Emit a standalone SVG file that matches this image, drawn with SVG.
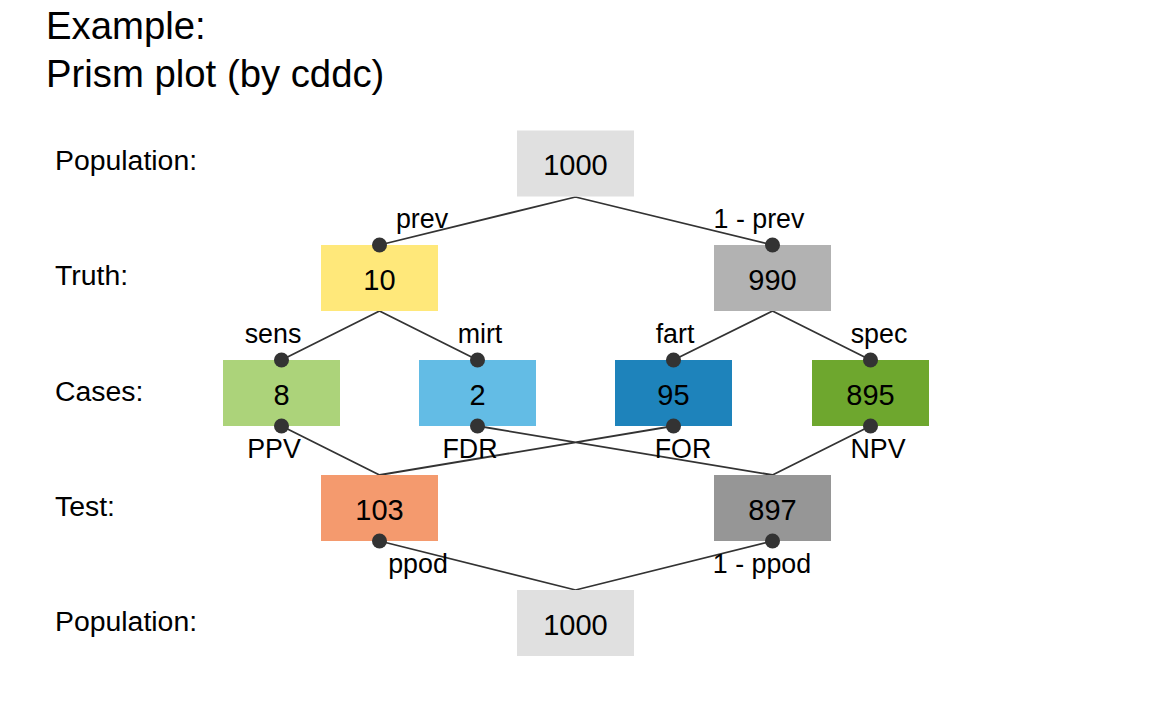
<svg xmlns="http://www.w3.org/2000/svg" width="1152" height="711" viewBox="0 0 1152 711">
<style>
text{font-family:"Liberation Sans",Arial,sans-serif;fill:#000}
.title{font-size:38.3px}
.row{font-size:28.4px}
.num{font-size:29px;text-anchor:middle}
.lbl{font-size:26.8px;text-anchor:middle}
.edge{stroke:#333333;stroke-width:1.8;fill:none}
.dot{fill:#333333}
</style>
<rect width="1152" height="711" fill="#ffffff"/>
<g id="title">
<text class="title" x="46" y="39">Example:</text>
<text class="title" x="46" y="87">Prism plot (by cddc)</text>
</g>
<g id="row-labels">
<text class="row" x="55" y="170">Population:</text>
<text class="row" x="55" y="285">Truth:</text>
<text class="row" x="55" y="401">Cases:</text>
<text class="row" x="55" y="516">Test:</text>
<text class="row" x="55" y="631">Population:</text>
</g>
<g id="connectors">
<path class="edge" d="M575.5,197 L379.5,245 M575.5,197 L772.5,245"/>
<path class="edge" d="M379.5,311 L281.5,360 M379.5,311 L477.5,360"/>
<path class="edge" d="M772.5,311 L673.5,360 M772.5,311 L870.5,360"/>
<path class="edge" d="M281.5,426 L379.5,475 M477.5,426 L772.5,475 M673.5,426 L379.5,475 M870.5,426 L772.5,475"/>
<path class="edge" d="M379.5,541 L575.5,590 M772.5,541 L575.5,590"/>
<text class="lbl" x="422" y="228">prev</text>
<text class="lbl" x="759" y="228">1 - prev</text>
<text class="lbl" x="273" y="343">sens</text>
<text class="lbl" x="480" y="343">mirt</text>
<text class="lbl" x="675" y="343">fart</text>
<text class="lbl" x="879" y="343">spec</text>
<text class="lbl" x="274" y="458">PPV</text>
<text class="lbl" x="470" y="458">FDR</text>
<text class="lbl" x="683" y="458">FOR</text>
<text class="lbl" x="878" y="458">NPV</text>
<text class="lbl" x="418" y="573">ppod</text>
<text class="lbl" x="762" y="573">1 - ppod</text>
</g>
<g id="node-pop-top">
<rect x="517" y="130.5" width="117" height="66" fill="#E0E0E0"/>
<text class="num" x="575.5" y="175">1000</text>
</g>
<g id="node-cond-true">
<rect x="321" y="245" width="117" height="66" fill="#FFE87A"/>
<text class="num" x="379.5" y="289.5">10</text>
</g>
<g id="node-cond-false">
<rect x="714" y="245" width="117" height="66" fill="#B2B2B2"/>
<text class="num" x="772.5" y="289.5">990</text>
</g>
<g id="node-hi">
<rect x="223" y="360" width="117" height="66" fill="#ACD37A"/>
<text class="num" x="281.5" y="404.5">8</text>
</g>
<g id="node-mi">
<rect x="419" y="360" width="117" height="66" fill="#63BCE5"/>
<text class="num" x="477.5" y="404.5">2</text>
</g>
<g id="node-fa">
<rect x="615" y="360" width="117" height="66" fill="#1E83BB"/>
<text class="num" x="673.5" y="404.5">95</text>
</g>
<g id="node-cr">
<rect x="812" y="360" width="117" height="66" fill="#6EA72E"/>
<text class="num" x="870.5" y="404.5">895</text>
</g>
<g id="node-dec-pos">
<rect x="321" y="475" width="117" height="66" fill="#F49A6E"/>
<text class="num" x="379.5" y="519.5">103</text>
</g>
<g id="node-dec-neg">
<rect x="714" y="475" width="117" height="66" fill="#969696"/>
<text class="num" x="772.5" y="519.5">897</text>
</g>
<g id="node-pop-bottom">
<rect x="517" y="590" width="117" height="66" fill="#E0E0E0"/>
<text class="num" x="575.5" y="634.5">1000</text>
</g>
<g id="dots">
<circle class="dot" cx="379.5" cy="245" r="7.5"/>
<circle class="dot" cx="772.5" cy="245" r="7.5"/>
<circle class="dot" cx="281.5" cy="360" r="7.5"/>
<circle class="dot" cx="477.5" cy="360" r="7.5"/>
<circle class="dot" cx="673.5" cy="360" r="7.5"/>
<circle class="dot" cx="870.5" cy="360" r="7.5"/>
<circle class="dot" cx="281.5" cy="426" r="7.5"/>
<circle class="dot" cx="477.5" cy="426" r="7.5"/>
<circle class="dot" cx="673.5" cy="426" r="7.5"/>
<circle class="dot" cx="870.5" cy="426" r="7.5"/>
<circle class="dot" cx="379.5" cy="541" r="7.5"/>
<circle class="dot" cx="772.5" cy="541" r="7.5"/>
</g>
</svg>
